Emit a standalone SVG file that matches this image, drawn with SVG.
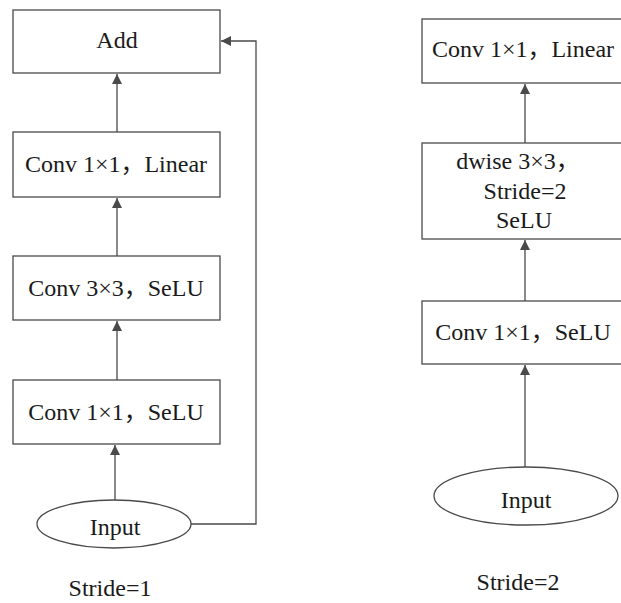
<svg xmlns="http://www.w3.org/2000/svg" width="621" height="603" viewBox="0 0 621 603">
  <style>
    .box { fill: #ffffff; stroke: #4a4a4a; stroke-width: 1.3; }
    .lbl { font-family: "Liberation Serif", "Noto Sans CJK SC", serif; font-size: 24px; fill: #1a1a1a; text-anchor: middle; }
    .edge { fill: none; stroke: #4a4a4a; stroke-width: 1.3; }
  </style>
  <defs>
    <marker id="arrow" viewBox="0 0 10 10" refX="10" refY="5" markerWidth="10" markerHeight="10" markerUnits="userSpaceOnUse" orient="auto">
      <path d="M0,0 L10,5 L0,10 Z" fill="#4a4a4a"/>
    </marker>
  </defs>
  <rect width="621" height="603" fill="#ffffff"/>

  <!-- Stride=1 block -->
  <g id="add">
    <rect class="box" x="13" y="10" width="207" height="63"/>
    <text class="lbl" x="117" y="48">Add</text>
  </g>
  <g id="s1-conv1x1-linear">
    <rect class="box" x="13" y="132" width="207" height="65"/>
    <text class="lbl" x="116" y="172">Conv 1×1，Linear</text>
  </g>
  <g id="s1-conv3x3">
    <rect class="box" x="13" y="256" width="207" height="64"/>
    <text class="lbl" x="116" y="296">Conv 3×3，SeLU</text>
  </g>
  <g id="s1-conv1x1-selu">
    <rect class="box" x="13" y="380" width="207" height="64"/>
    <text class="lbl" x="116" y="420">Conv 1×1，SeLU</text>
  </g>
  <g id="s1-input">
    <ellipse class="box" cx="114" cy="524" rx="77" ry="24"/>
    <text class="lbl" x="115" y="535">Input</text>
  </g>
  <text class="lbl" x="110" y="596">Stride=1</text>

  <!-- Stride=2 block -->
  <g id="s2-conv1x1-linear">
    <rect class="box" x="422" y="19" width="206" height="64"/>
    <text class="lbl" x="523" y="57">Conv 1×1，Linear</text>
  </g>
  <g id="s2-dwise">
    <rect class="box" x="422" y="143" width="206" height="96"/>
    <text class="lbl" x="518" y="169">dwise 3×3，</text>
    <text class="lbl" x="525" y="199">Stride=2</text>
    <text class="lbl" x="524" y="228">SeLU</text>
  </g>
  <g id="s2-conv1x1-selu">
    <rect class="box" x="422" y="301" width="206" height="63"/>
    <text class="lbl" x="523" y="340">Conv 1×1，SeLU</text>
  </g>
  <g id="s2-input">
    <ellipse class="box" cx="526" cy="496" rx="92" ry="29"/>
    <text class="lbl" x="526" y="508">Input</text>
  </g>
  <text class="lbl" x="518" y="590">Stride=2</text>

  <!-- connectors -->
  <g id="connectors">
    <line class="edge" x1="117" y1="132" x2="117" y2="74" marker-end="url(#arrow)"/>
    <line class="edge" x1="117" y1="256" x2="117" y2="198" marker-end="url(#arrow)"/>
    <line class="edge" x1="117" y1="380" x2="117" y2="321" marker-end="url(#arrow)"/>
    <line class="edge" x1="115" y1="500" x2="115" y2="445" marker-end="url(#arrow)"/>
    <polyline class="edge" points="191,524 256,524 256,41 221,41" marker-end="url(#arrow)"/>

    <line class="edge" x1="525" y1="143" x2="525" y2="84" marker-end="url(#arrow)"/>
    <line class="edge" x1="525" y1="301" x2="525" y2="240" marker-end="url(#arrow)"/>
    <line class="edge" x1="525" y1="467" x2="525" y2="365" marker-end="url(#arrow)"/>
  </g>
</svg>
